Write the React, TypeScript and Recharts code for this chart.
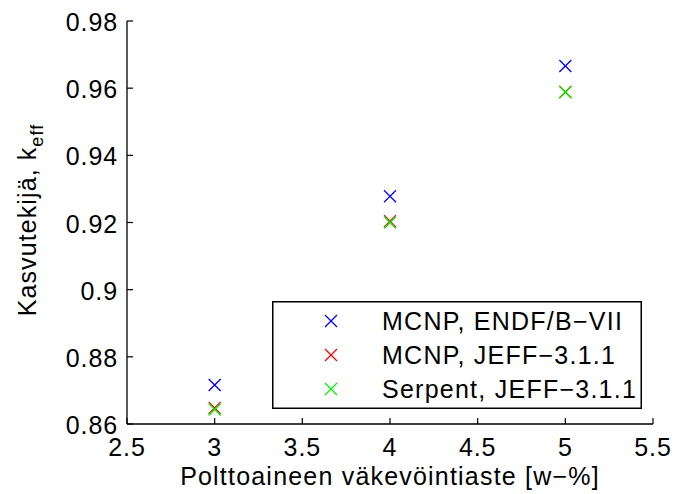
import React from 'react';
import {Legend, Scatter, ScatterChart, XAxis, YAxis} from 'recharts';

document.body.style.margin = '0';

const ENRICHMENT = [3, 4, 5];
const MCNP_ENDF = [0.8716, 0.9278, 0.9666];
const MCNP_JEFF = [0.8648, 0.9204, 0.9589];
const SERPENT_JEFF = [0.8643, 0.92, 0.9588];

const X_TICKS = [2.5, 3, 3.5, 4, 4.5, 5, 5.5];
const Y_TICKS = [0.86, 0.88, 0.9, 0.92, 0.94, 0.96, 0.98];

const SERIES = [
    {name: 'MCNP, ENDF/B\u2212VII', values: MCNP_ENDF, color: '#0000ff'},
    {name: 'MCNP, JEFF\u22123.1.1', values: MCNP_JEFF, color: '#ff0000'},
    {name: 'Serpent, JEFF\u22123.1.1', values: SERPENT_JEFF, color: '#00f000'},
];

const FONT = '"Liberation Sans", Arial, Helvetica, sans-serif';
const FONT_SIZE = 25;
const SPACING = 0.9;
const AXIS_COLOR = '#000';
const TICK_LEN = 6;

function toPoints(values: number[]) {
    return ENRICHMENT.map((x, i) => ({x, y: values[i]}));
}

function xMark(color: string) {
    return (props: any) => {
        const {cx, cy} = props;
        const h = 6;
        return (
            <g stroke={color} strokeWidth={1.3}>
                <line x1={cx - h} y1={cy - h} x2={cx + h} y2={cy + h}/>
                <line x1={cx - h} y1={cy + h} x2={cx + h} y2={cy - h}/>
            </g>
        );
    };
}

function BottomTick({x, y, payload}: any) {
    return (
        <g>
            <line x1={x} x2={x} y1={y} y2={y - TICK_LEN} stroke={AXIS_COLOR} strokeWidth={1.2}/>
            <text x={x} y={y + 32} textAnchor="middle" fontFamily={FONT} fontSize={FONT_SIZE}
                  letterSpacing={SPACING} fill="#000">{payload.value}</text>
        </g>
    );
}

function LeftTick({x, y, payload}: any) {
    return (
        <g>
            <line x1={x} x2={x + TICK_LEN} y1={y} y2={y} stroke={AXIS_COLOR} strokeWidth={1.2}/>
            <text x={x - 9} y={y + 10} textAnchor="end" fontFamily={FONT} fontSize={FONT_SIZE}
                  letterSpacing={SPACING} fill="#000">{payload.value}</text>
        </g>
    );
}

function TopTick({x, y}: any) {
    return <line x1={x} x2={x} y1={y} y2={y + TICK_LEN} stroke={AXIS_COLOR} strokeWidth={1.2}/>;
}

function RightTick({x, y}: any) {
    return <line x1={x} x2={x - TICK_LEN} y1={y} y2={y} stroke={AXIS_COLOR} strokeWidth={1.2}/>;
}

function XLabel({viewBox}: any) {
    const cx = viewBox.x + viewBox.width / 2;
    return (
        <text x={cx} y={485} textAnchor="middle" fontFamily={FONT} fontSize={FONT_SIZE}
              letterSpacing={1.2} fill="#000">
            Polttoaineen väkevöintiaste [w−%]
        </text>
    );
}

function YLabel() {
    const cx = 36;
    const cy = 220;
    return (
        <text x={cx} y={cy} transform={`rotate(-90 ${cx} ${cy})`} textAnchor="middle" fontFamily={FONT}
              fontSize={FONT_SIZE} letterSpacing={1.1} fill="#000">
            Kasvutekijä, k
            <tspan dy={7} fontSize={18}>eff</tspan>
        </text>
    );
}

function LegendBox() {
    const rows = [20, 54, 88];
    return (
        <svg width={370} height={108} style={{display: 'block'}}>
            <rect x={0.75} y={0.75} width={368.5} height={106.5} fill="#fff" stroke="#000" strokeWidth={1.5}/>
            {SERIES.map((s, i) => (
                <g key={s.name}>
                    <g stroke={s.color} strokeWidth={1.3}>
                        <line x1={53} y1={rows[i] - 6} x2={65} y2={rows[i] + 6}/>
                        <line x1={53} y1={rows[i] + 6} x2={65} y2={rows[i] - 6}/>
                    </g>
                    <text x={110} y={rows[i] + 9} fontFamily={FONT} fontSize={FONT_SIZE}
                          letterSpacing={1.25} fill="#000">{s.name}</text>
                </g>
            ))}
        </svg>
    );
}

export default function App() {
    return (
        <ScatterChart width={676} height={494} margin={{top: 21, right: 23, left: 0, bottom: 0}}
                      style={{background: '#fff'}}>
            <XAxis xAxisId="b" type="number" dataKey="x" domain={[2.5, 5.5]} ticks={X_TICKS}
                   height={70} tickSize={0} tickMargin={0} tickLine={false}
                   axisLine={{stroke: AXIS_COLOR, strokeWidth: 1.3}} tick={<BottomTick/>}
                   label={<XLabel/>} allowDataOverflow/>
            <XAxis xAxisId="t" orientation="top" type="number" dataKey="x" domain={[2.5, 5.5]} ticks={X_TICKS}
                   height={0} tickSize={0} tickMargin={0} tickLine={false}
                   axisLine={{stroke: AXIS_COLOR, strokeWidth: 1.3}} tick={<TopTick/>} allowDataOverflow/>
            <YAxis yAxisId="l" type="number" dataKey="y" domain={[0.86, 0.98]} ticks={Y_TICKS}
                   width={127} tickSize={0} tickMargin={0} tickLine={false}
                   axisLine={{stroke: AXIS_COLOR, strokeWidth: 1.3}} tick={<LeftTick/>}
                   label={<YLabel/>} allowDataOverflow/>
            <YAxis yAxisId="r" orientation="right" type="number" dataKey="y" domain={[0.86, 0.98]} ticks={Y_TICKS}
                   width={0} tickSize={0} tickMargin={0} tickLine={false}
                   axisLine={{stroke: AXIS_COLOR, strokeWidth: 1.3}} tick={<RightTick/>} allowDataOverflow/>
            <Legend layout="horizontal" verticalAlign="middle" align="center"
                    wrapperStyle={{left: 272, top: 301, width: 370, height: 108}}
                    content={() => <LegendBox/>}/>
            {SERIES.map((s) => (
                <Scatter key={s.name} name={s.name} data={toPoints(s.values)} xAxisId="b" yAxisId="l"
                         fill={s.color} shape={xMark(s.color)} isAnimationActive={false}/>
            ))}
        </ScatterChart>
    );
}
